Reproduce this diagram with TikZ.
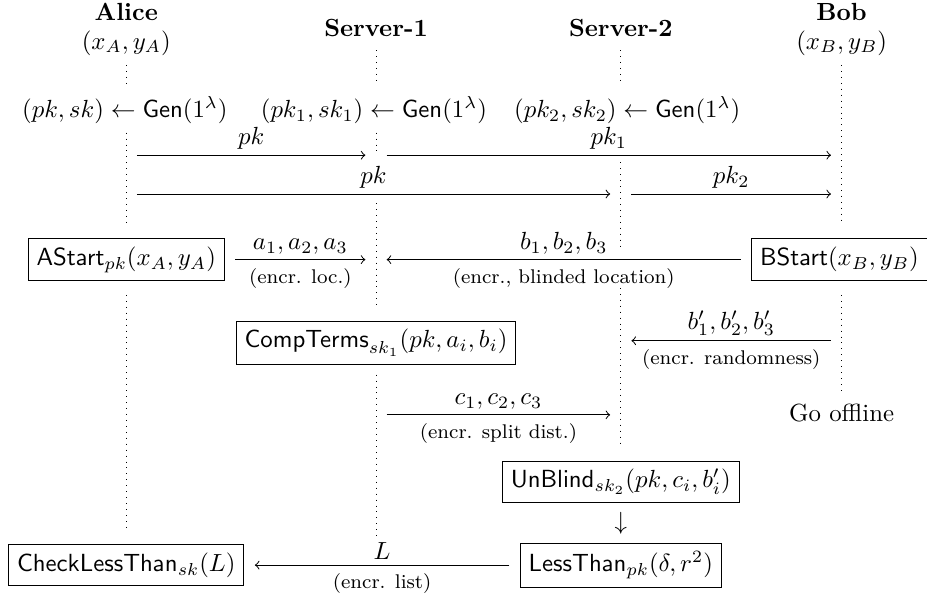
\documentclass[tikz,border=0pt]{standalone}
\usetikzlibrary{chains, positioning}

\tikzset{
  party/.style={font=\bfseries},
  box/.style={draw},
  life/.style={dotted},
  msg/.style={->, shorten >=4.3pt, shorten <=4.3pt},
  over/.style={above, inner sep=2pt},
  note/.style={below, font=\footnotesize}
}

\begin{document}
\begin{tikzpicture}
    \useasboundingbox (0,0) rectangle (13.14,-8.49);

    % parties
    \node[party] (alice) at (1.79,-0.17) {Alice};
    \node (ain) at (1.79,-0.61) {$(x_A, y_A)$};
    \node[party] (srv1) at (5.33,-0.40) {Server-1};
    \node[party] (srv2) at (8.80,-0.40) {Server-2};
    \node[party] (bob) at (11.93,-0.17) {Bob};
    \node (bin) at (11.93,-0.61) {$(x_B, y_B)$};

    % life lines
    \draw[life] (1.79,-0.92) -- (1.79,-1.23);
    \draw[life] (1.79,-1.88) -- (1.79,-3.19);
    \draw[life] (1.79,-4.18) -- (1.79,-7.54);
    \draw[life] (5.33,-0.71) -- (5.33,-1.18);
    \draw[life] (5.33,-1.88) -- (5.33,-2.17);
    \draw[life] (5.33,-2.88) -- (5.33,-4.35);
    \draw[life] (5.33,-5.31) -- (5.33,-7.61);
    \draw[life] (8.80,-0.71) -- (8.80,-1.18);
    \draw[life] (8.80,-2.30) -- (8.80,-3.54);
    \draw[life] (8.80,-4.08) -- (8.80,-6.33);
    \draw[life] (11.93,-0.92) -- (11.93,-3.19);
    \draw[life] (11.93,-4.18) -- (11.93,-5.56);

    % key generation
    \node (agen) at (1.77,-1.56) {$(pk, sk) \leftarrow \mathsf{Gen}(1^\lambda)$};
    \node (s1gen) at (5.30,-1.56) {$(pk_1, sk_1) \leftarrow \mathsf{Gen}(1^\lambda)$};
    \node (s2gen) at (8.89,-1.56) {$(pk_2, sk_2) \leftarrow \mathsf{Gen}(1^\lambda)$};

    \coordinate (al1) at (1.79,-2.20);
    \coordinate (sa1) at (5.33,-2.20);
    \coordinate (bo1) at (11.93,-2.20);
    \coordinate (al2) at (1.79,-2.75);
    \coordinate (sb2) at (8.80,-2.75);
    \coordinate (bo2) at (11.93,-2.75);

    \draw[msg] (al1) -- node[over] {$pk$} (sa1);
    \draw[msg] (sa1) -- node[over] {$pk_1$} (bo1);
    \draw[msg] (al2) -- node[over] {$pk$} (sb2);
    \draw[msg] (sb2) -- node[over] {$pk_2$} (bo2);

    % inputs
    \node[box] (astart) at (1.79,-3.68) {$\mathsf{AStart}_{pk}(x_A, y_A)$};
    \node[box] (bstart) at (11.90,-3.68) {$\mathsf{BStart}(x_B, y_B)$};
    \coordinate (sa3) at (5.33,-3.68);

    \draw[msg] (astart) -- node[over] {$a_1, a_2, a_3$} node[note] {(encr. loc.)} (sa3);
    \draw[msg] (bstart) -- node[over] {$b_1, b_2, b_3$} node[note] {(encr., blinded location)} (sa3);

    \node[box] (comp) at (5.33,-4.86) {$\mathsf{CompTerms}_{sk_1}(pk, a_i, b_i)$};
    \coordinate (sb4) at (8.80,-4.83);
    \coordinate (bo4) at (11.93,-4.83);
    \draw[msg] (bo4) -- node[over] {$b'_1, b'_2, b'_3$} node[note] {(encr. randomness)} (sb4);
    \node (off) at (11.93,-5.85) {Go offline};

    \coordinate (sa5) at (5.33,-5.88);
    \coordinate (sb5) at (8.80,-5.88);
    \draw[msg] (sa5) -- node[over] {$c_1, c_2, c_3$} node[note] {(encr. split dist.)} (sb5);

    \begin{scope}[start chain=going below, node distance=0pt]
      \node[box, on chain] (unblind) at (8.80,-6.83) {$\mathsf{UnBlind}_{sk_2}(pk, c_i, b'_i)$};
      \node[on chain] (down) {$\downarrow$};
      \node[box, on chain] (less) {$\mathsf{LessThan}_{pk}(\delta, r^2)$};
    \end{scope}

    \node[box] (check) at (less -| alice) {$\mathsf{CheckLessThan}_{sk}(L)$};
    \draw[msg] (less) -- node[over] {$L$} node[note] {(encr. list)} (check);
\end{tikzpicture}
\end{document}
